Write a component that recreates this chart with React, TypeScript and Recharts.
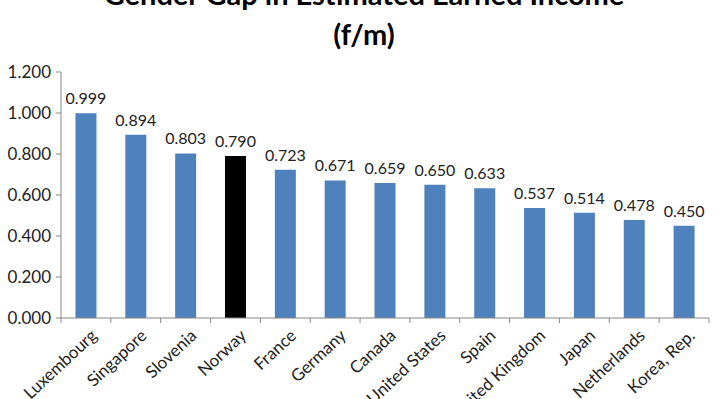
import React from 'react';
import { BarChart, Bar, XAxis, YAxis, Cell, LabelList } from 'recharts';

const countries = ['Luxembourg', 'Singapore', 'Slovenia', 'Norway', 'France', 'Germany', 'Canada', 'United States', 'Spain', 'United Kingdom', 'Japan', 'Netherlands', 'Korea, Rep.'];
const ratios = [0.999, 0.894, 0.803, 0.790, 0.723, 0.671, 0.659, 0.650, 0.633, 0.537, 0.514, 0.478, 0.450];
const yTicks = [0, 0.2, 0.4, 0.6, 0.8, 1.0, 1.2];
const highlight = 'Norway';

const data = countries.map((name, i) => ({ name, value: ratios[i] }));

const font = 'Lato, "Open Sans", sans-serif';
const W = 720;
const H = 399;
const margin = { top: 72, right: 11, bottom: 0, left: 0 };
const yAxisWidth = 61;
const bandWidth = (W - margin.left - margin.right - yAxisWidth) / countries.length;

const CountryTick = (props: any) => {
  const { x, y, payload, index } = props;
  const tx = x + 12;
  const ty = y + 11;
  return (
    <g>
      <line x1={x - bandWidth / 2} y1={y - 8} x2={x - bandWidth / 2} y2={y - 3} stroke="#868686" />
      {index === countries.length - 1 && (
        <line x1={x + bandWidth / 2} y1={y - 8} x2={x + bandWidth / 2} y2={y - 3} stroke="#868686" />
      )}
      <text x={tx} y={ty} textAnchor="end" fontSize={17} fill="#222" fontFamily={font} transform={`rotate(-43 ${tx} ${ty})`}>
        {payload.value}
      </text>
    </g>
  );
};

export default function App() {
  return (
    <div style={{ position: 'absolute', left: 0, top: 0, width: W, height: H, background: '#fff', fontFamily: font }}>
      <div style={{ position: 'absolute', left: 0, width: W, top: -26, textAlign: 'center', fontWeight: 700, fontSize: 29, lineHeight: '40px', color: '#000', paddingLeft: 8, boxSizing: 'border-box' }}>
        <div>Gender Gap in Estimated Earned Income</div>
        <div>(f/m)</div>
      </div>
      <BarChart width={W} height={H} data={data} margin={margin} barCategoryGap="29%">
        <XAxis dataKey="name" height={81} interval={0} axisLine={{ stroke: '#868686' }} tickLine={false} tick={<CountryTick />} />
        <YAxis width={yAxisWidth} domain={[0, 1.2]} ticks={yTicks} tickFormatter={(v: number) => v.toFixed(3)} axisLine={{ stroke: '#868686' }} tickLine={{ stroke: '#868686' }} tickSize={5} tickMargin={5} tick={{ fontSize: 17, fill: '#222', fontFamily: font }} />
        <Bar dataKey="value" isAnimationActive={false}>
          {data.map((d) => (
            <Cell key={d.name} fill={d.name === highlight ? '#000000' : '#4F81BD'} />
          ))}
          <LabelList dataKey="value" position="top" offset={9} formatter={(v: any) => Number(v).toFixed(3)} style={{ fontSize: 16, fill: '#222', fontFamily: font }} />
        </Bar>
      </BarChart>
    </div>
  );
}
